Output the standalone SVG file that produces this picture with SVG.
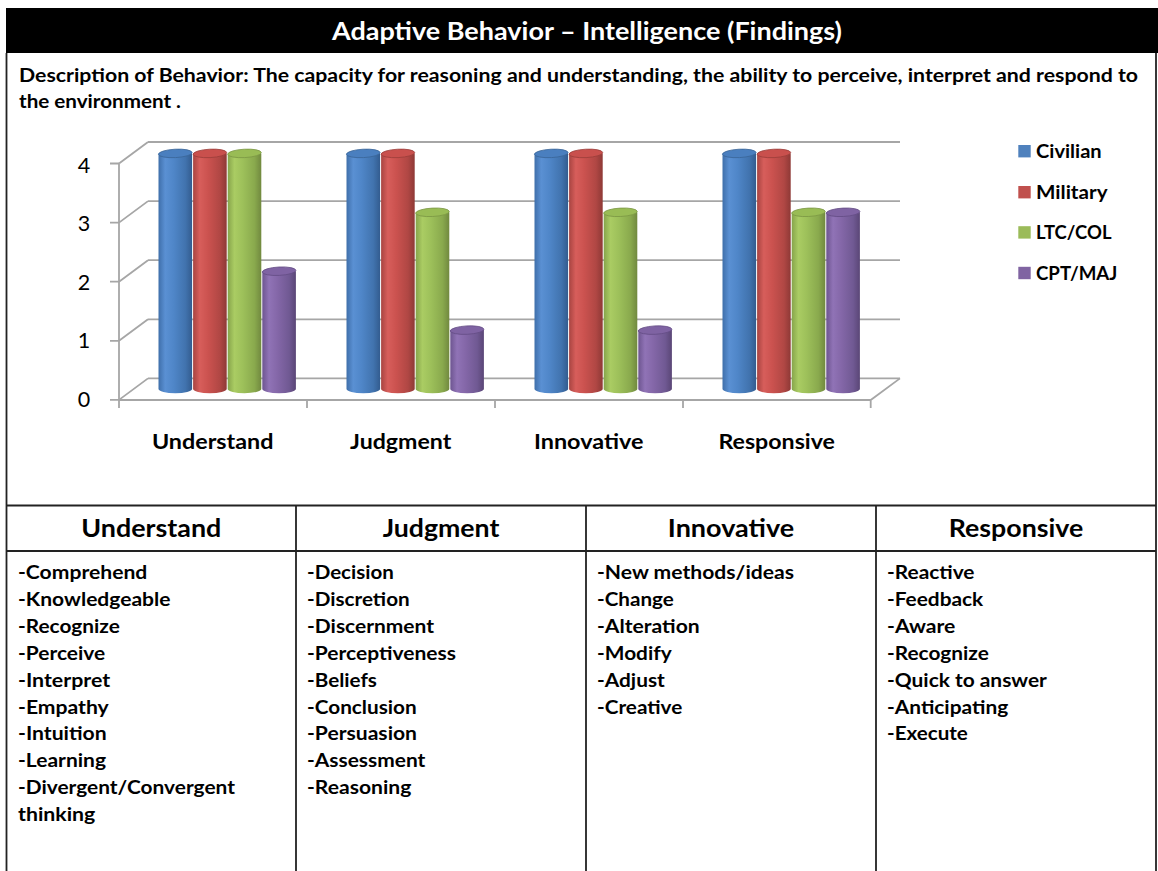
<svg xmlns="http://www.w3.org/2000/svg" width="1158" height="871" viewBox="0 0 1158 871">
<style>
.t{font-family:Lato,"Liberation Sans",sans-serif;font-weight:bold;fill:#000}
.title{font-size:25px;fill:#fff}
.desc{font-size:19px}
.hdr{font-size:25px}
.item{font-size:19.5px}
.cat{font-size:20.5px}
.leg{font-size:18.5px}
.ax{font-family:Lato,"Liberation Sans",sans-serif;font-weight:normal;font-size:21.5px;fill:#000}
.grid{stroke:#A6A6A6;stroke-width:1.8;fill:none}
.rule{stroke:#222;stroke-width:1.8;fill:none}
</style>
<defs>
<linearGradient id="gB" x1="0" x2="1" y1="0" y2="0"><stop offset="0" stop-color="#3F6FAA"/><stop offset="0.2" stop-color="#5A90D3"/><stop offset="0.45" stop-color="#4F86C8"/><stop offset="0.8" stop-color="#4173AE"/><stop offset="1" stop-color="#335C8F"/></linearGradient>
<linearGradient id="gR" x1="0" x2="1" y1="0" y2="0"><stop offset="0" stop-color="#A84441"/><stop offset="0.2" stop-color="#D75E5B"/><stop offset="0.45" stop-color="#CB524F"/><stop offset="0.8" stop-color="#B04744"/><stop offset="1" stop-color="#8E3936"/></linearGradient>
<linearGradient id="gG" x1="0" x2="1" y1="0" y2="0"><stop offset="0" stop-color="#86A44B"/><stop offset="0.2" stop-color="#AACC63"/><stop offset="0.45" stop-color="#9DC05A"/><stop offset="0.8" stop-color="#89A94D"/><stop offset="1" stop-color="#71893F"/></linearGradient>
<linearGradient id="gP" x1="0" x2="1" y1="0" y2="0"><stop offset="0" stop-color="#6D5590"/><stop offset="0.2" stop-color="#9073B6"/><stop offset="0.45" stop-color="#8467A8"/><stop offset="0.8" stop-color="#705993"/><stop offset="1" stop-color="#5A4676"/></linearGradient>
</defs>
<rect width="1158" height="871" fill="#fff"/>

<g id="frame">
<rect x="6" y="8" width="1152" height="45" fill="#000"/>
<line class="rule" x1="6.5" y1="53" x2="6.5" y2="871"/>
<line class="rule" x1="1156" y1="53" x2="1156" y2="871"/>
</g>

<g id="title">
<text class="t title" x="587" y="40" text-anchor="middle" textLength="510" lengthAdjust="spacingAndGlyphs">Adaptive Behavior – Intelligence (Findings)</text>
</g>

<g id="description">
<text class="t desc" x="19" y="82" textLength="1119" lengthAdjust="spacingAndGlyphs">Description of Behavior: The capacity for reasoning and understanding, the ability to perceive, interpret and respond to</text>
<text class="t desc" x="19" y="108" textLength="162" lengthAdjust="spacingAndGlyphs">the environment .</text>
</g>

<g id="chart-axes">
<path class="grid" d="M148 142H900M148 201.1H900M148 260.2H900M148 319.3H900M148 378.4H900"/>
<path class="grid" d="M119 163.5L148 142M119 222.6L148 201.1M119 281.7L148 260.2M119 340.8L148 319.3M119 399.9L148 378.4"/>
<path class="grid" d="M110 163.5H119M110 222.6H119M110 281.7H119M110 340.8H119M110 399.9H119"/>
<path class="grid" d="M119 163.5V408M119 400H870.7L900 378.4M307 400V408M495 400V408M683 400V408M870.7 400V408"/>
<text class="ax" x="84" y="172.5" text-anchor="middle">4</text>
<text class="ax" x="84" y="231.1" text-anchor="middle">3</text>
<text class="ax" x="84" y="289.7" text-anchor="middle">2</text>
<text class="ax" x="84" y="348.3" text-anchor="middle">1</text>
<text class="ax" x="84" y="406.9" text-anchor="middle">0</text>
<text class="t cat" x="212.7" y="449" text-anchor="middle" textLength="121.5" lengthAdjust="spacingAndGlyphs">Understand</text>
<text class="t cat" x="400.7" y="449" text-anchor="middle" textLength="101.2" lengthAdjust="spacingAndGlyphs">Judgment</text>
<text class="t cat" x="588.7" y="449" text-anchor="middle" textLength="109.5" lengthAdjust="spacingAndGlyphs">Innovative</text>
<text class="t cat" x="776.7" y="449" text-anchor="middle" textLength="116.5" lengthAdjust="spacingAndGlyphs">Responsive</text>
</g>

<g id="bars">
<g id="bars-understand">
<path fill="url(#gB)" d="M158.5 153.4V389A16.8 4.2 0 0 0 192.1 389V153.4Z"/><ellipse cx="175.3" cy="153.4" rx="16.8" ry="4.2" fill="#4A7FBF" stroke="#3A6497" stroke-width="0.8" transform="rotate(-3 175.3 153.4)"/>
<path fill="url(#gR)" d="M193.1 153.4V389A16.8 4.2 0 0 0 226.7 389V153.4Z"/><ellipse cx="209.9" cy="153.4" rx="16.8" ry="4.2" fill="#C9504D" stroke="#9A3D3A" stroke-width="0.8" transform="rotate(-3 209.9 153.4)"/>
<path fill="url(#gG)" d="M227.7 153.4V389A16.8 4.2 0 0 0 261.3 389V153.4Z"/><ellipse cx="244.5" cy="153.4" rx="16.8" ry="4.2" fill="#99BC55" stroke="#7A9744" stroke-width="0.8" transform="rotate(-3 244.5 153.4)"/>
<path fill="url(#gP)" d="M262.3 271.2V389A16.8 4.2 0 0 0 295.9 389V271.2Z"/><ellipse cx="279.1" cy="271.2" rx="16.8" ry="4.2" fill="#7F63A3" stroke="#634C84" stroke-width="0.8" transform="rotate(-3 279.1 271.2)"/>
</g>
<g id="bars-judgment">
<path fill="url(#gB)" d="M346.5 153.4V389A16.8 4.2 0 0 0 380.1 389V153.4Z"/><ellipse cx="363.3" cy="153.4" rx="16.8" ry="4.2" fill="#4A7FBF" stroke="#3A6497" stroke-width="0.8" transform="rotate(-3 363.3 153.4)"/>
<path fill="url(#gR)" d="M381.1 153.4V389A16.8 4.2 0 0 0 414.7 389V153.4Z"/><ellipse cx="397.9" cy="153.4" rx="16.8" ry="4.2" fill="#C9504D" stroke="#9A3D3A" stroke-width="0.8" transform="rotate(-3 397.9 153.4)"/>
<path fill="url(#gG)" d="M415.7 212.3V389A16.8 4.2 0 0 0 449.3 389V212.3Z"/><ellipse cx="432.5" cy="212.3" rx="16.8" ry="4.2" fill="#99BC55" stroke="#7A9744" stroke-width="0.8" transform="rotate(-3 432.5 212.3)"/>
<path fill="url(#gP)" d="M450.3 330.1V389A16.8 4.2 0 0 0 483.9 389V330.1Z"/><ellipse cx="467.1" cy="330.1" rx="16.8" ry="4.2" fill="#7F63A3" stroke="#634C84" stroke-width="0.8" transform="rotate(-3 467.1 330.1)"/>
</g>
<g id="bars-innovative">
<path fill="url(#gB)" d="M534.5 153.4V389A16.8 4.2 0 0 0 568.1 389V153.4Z"/><ellipse cx="551.3" cy="153.4" rx="16.8" ry="4.2" fill="#4A7FBF" stroke="#3A6497" stroke-width="0.8" transform="rotate(-3 551.3 153.4)"/>
<path fill="url(#gR)" d="M569.1 153.4V389A16.8 4.2 0 0 0 602.7 389V153.4Z"/><ellipse cx="585.9" cy="153.4" rx="16.8" ry="4.2" fill="#C9504D" stroke="#9A3D3A" stroke-width="0.8" transform="rotate(-3 585.9 153.4)"/>
<path fill="url(#gG)" d="M603.7 212.3V389A16.8 4.2 0 0 0 637.3 389V212.3Z"/><ellipse cx="620.5" cy="212.3" rx="16.8" ry="4.2" fill="#99BC55" stroke="#7A9744" stroke-width="0.8" transform="rotate(-3 620.5 212.3)"/>
<path fill="url(#gP)" d="M638.3 330.1V389A16.8 4.2 0 0 0 671.9 389V330.1Z"/><ellipse cx="655.1" cy="330.1" rx="16.8" ry="4.2" fill="#7F63A3" stroke="#634C84" stroke-width="0.8" transform="rotate(-3 655.1 330.1)"/>
</g>
<g id="bars-responsive">
<path fill="url(#gB)" d="M722.5 153.4V389A16.8 4.2 0 0 0 756.1 389V153.4Z"/><ellipse cx="739.3" cy="153.4" rx="16.8" ry="4.2" fill="#4A7FBF" stroke="#3A6497" stroke-width="0.8" transform="rotate(-3 739.3 153.4)"/>
<path fill="url(#gR)" d="M757.1 153.4V389A16.8 4.2 0 0 0 790.7 389V153.4Z"/><ellipse cx="773.9" cy="153.4" rx="16.8" ry="4.2" fill="#C9504D" stroke="#9A3D3A" stroke-width="0.8" transform="rotate(-3 773.9 153.4)"/>
<path fill="url(#gG)" d="M791.7 212.3V389A16.8 4.2 0 0 0 825.3 389V212.3Z"/><ellipse cx="808.5" cy="212.3" rx="16.8" ry="4.2" fill="#99BC55" stroke="#7A9744" stroke-width="0.8" transform="rotate(-3 808.5 212.3)"/>
<path fill="url(#gP)" d="M826.3 212.3V389A16.8 4.2 0 0 0 859.9 389V212.3Z"/><ellipse cx="843.1" cy="212.3" rx="16.8" ry="4.2" fill="#7F63A3" stroke="#634C84" stroke-width="0.8" transform="rotate(-3 843.1 212.3)"/>
</g>
</g>

<g id="legend">
<rect x="1018.3" y="145" width="12.4" height="12.4" fill="#4F81BD"/>
<text class="t leg" x="1036" y="158" textLength="65.7" lengthAdjust="spacingAndGlyphs">Civilian</text>
<rect x="1018.3" y="186" width="12.4" height="12.4" fill="#C0504D"/>
<text class="t leg" x="1036" y="199" textLength="71.5" lengthAdjust="spacingAndGlyphs">Military</text>
<rect x="1018.3" y="226.2" width="12.4" height="12.4" fill="#9BBB59"/>
<text class="t leg" x="1036" y="239.2" textLength="75.5" lengthAdjust="spacingAndGlyphs">LTC/COL</text>
<rect x="1018.3" y="266.8" width="12.4" height="12.4" fill="#8064A2"/>
<text class="t leg" x="1036" y="279.8" textLength="81.3" lengthAdjust="spacingAndGlyphs">CPT/MAJ</text>
</g>

<g id="table-grid">
<path class="rule" d="M6.5 505.5H1156M6.5 551H1156M296 505.5V871M586 505.5V871M876 505.5V871"/>
</g>

<g id="col-understand">
<text class="t hdr" x="151.3" y="537" text-anchor="middle" textLength="140" lengthAdjust="spacingAndGlyphs">Understand</text>
<text class="t item" x="18" y="579" textLength="129.3" lengthAdjust="spacingAndGlyphs">-Comprehend</text>
<text class="t item" x="18" y="605.9" textLength="152.5" lengthAdjust="spacingAndGlyphs">-Knowledgeable</text>
<text class="t item" x="18" y="632.8" textLength="101.8" lengthAdjust="spacingAndGlyphs">-Recognize</text>
<text class="t item" x="18" y="659.7" textLength="87.1" lengthAdjust="spacingAndGlyphs">-Perceive</text>
<text class="t item" x="18" y="686.6" textLength="92.1" lengthAdjust="spacingAndGlyphs">-Interpret</text>
<text class="t item" x="18" y="713.5" textLength="90.7" lengthAdjust="spacingAndGlyphs">-Empathy</text>
<text class="t item" x="18" y="740.4" textLength="88.7" lengthAdjust="spacingAndGlyphs">-Intuition</text>
<text class="t item" x="18" y="767.3" textLength="88" lengthAdjust="spacingAndGlyphs">-Learning</text>
<text class="t item" x="18" y="794.2" textLength="216.9" lengthAdjust="spacingAndGlyphs">-Divergent/Convergent</text>
<text class="t item" x="18" y="821.1" textLength="77.3" lengthAdjust="spacingAndGlyphs">thinking</text>
</g>

<g id="col-judgment">
<text class="t hdr" x="441" y="537" text-anchor="middle" textLength="116.7" lengthAdjust="spacingAndGlyphs">Judgment</text>
<text class="t item" x="307" y="579" textLength="86.8" lengthAdjust="spacingAndGlyphs">-Decision</text>
<text class="t item" x="307" y="605.9" textLength="102.7" lengthAdjust="spacingAndGlyphs">-Discretion</text>
<text class="t item" x="307" y="632.8" textLength="127" lengthAdjust="spacingAndGlyphs">-Discernment</text>
<text class="t item" x="307" y="659.7" textLength="148.9" lengthAdjust="spacingAndGlyphs">-Perceptiveness</text>
<text class="t item" x="307" y="686.6" textLength="69.9" lengthAdjust="spacingAndGlyphs">-Beliefs</text>
<text class="t item" x="307" y="713.5" textLength="109.7" lengthAdjust="spacingAndGlyphs">-Conclusion</text>
<text class="t item" x="307" y="740.4" textLength="110" lengthAdjust="spacingAndGlyphs">-Persuasion</text>
<text class="t item" x="307" y="767.3" textLength="118.3" lengthAdjust="spacingAndGlyphs">-Assessment</text>
<text class="t item" x="307" y="794.2" textLength="104.4" lengthAdjust="spacingAndGlyphs">-Reasoning</text>
</g>

<g id="col-innovative">
<text class="t hdr" x="731" y="537" text-anchor="middle" textLength="126.3" lengthAdjust="spacingAndGlyphs">Innovative</text>
<text class="t item" x="597" y="579" textLength="197" lengthAdjust="spacingAndGlyphs">-New methods/ideas</text>
<text class="t item" x="597" y="605.9" textLength="76.7" lengthAdjust="spacingAndGlyphs">-Change</text>
<text class="t item" x="597" y="632.8" textLength="102.7" lengthAdjust="spacingAndGlyphs">-Alteration</text>
<text class="t item" x="597" y="659.7" textLength="74.7" lengthAdjust="spacingAndGlyphs">-Modify</text>
<text class="t item" x="597" y="686.6" textLength="67.8" lengthAdjust="spacingAndGlyphs">-Adjust</text>
<text class="t item" x="597" y="713.5" textLength="85.3" lengthAdjust="spacingAndGlyphs">-Creative</text>
</g>

<g id="col-responsive">
<text class="t hdr" x="1016" y="537" text-anchor="middle" textLength="134.4" lengthAdjust="spacingAndGlyphs">Responsive</text>
<text class="t item" x="887" y="579" textLength="87.5" lengthAdjust="spacingAndGlyphs">-Reactive</text>
<text class="t item" x="887" y="605.9" textLength="96.2" lengthAdjust="spacingAndGlyphs">-Feedback</text>
<text class="t item" x="887" y="632.8" textLength="68.3" lengthAdjust="spacingAndGlyphs">-Aware</text>
<text class="t item" x="887" y="659.7" textLength="101.8" lengthAdjust="spacingAndGlyphs">-Recognize</text>
<text class="t item" x="887" y="686.6" textLength="159.9" lengthAdjust="spacingAndGlyphs">-Quick to answer</text>
<text class="t item" x="887" y="713.5" textLength="121.2" lengthAdjust="spacingAndGlyphs">-Anticipating</text>
<text class="t item" x="887" y="740.4" textLength="80.8" lengthAdjust="spacingAndGlyphs">-Execute</text>
</g>
</svg>
